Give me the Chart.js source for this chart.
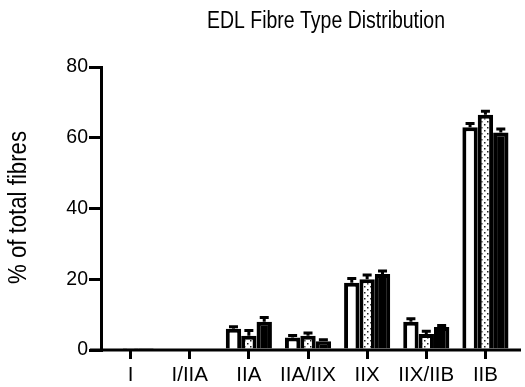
<!DOCTYPE html>
<html><head><meta charset="utf-8">
<script src="https://cdn.jsdelivr.net/npm/chart.js@4/dist/chart.umd.min.js"></script>
<style>html,body{margin:0;padding:0;background:#fff}#wrap{width:525px;height:387px}</style>
</head><body><div id="wrap"><canvas id="c" width="525" height="387"></canvas></div>
<script>
const categories = ["I","I/IIA","IIA","IIA/IIX","IIX","IIX/IIB","IIB"];
const series1 = [0, 0, 6, 3.5, 19, 8, 63];
const series2 = [0.6, 0, 4, 4, 20, 4.5, 66.5];
const series3 = [0.6, 0, 8, 2.5, 21.5, 6.5, 61.5];
const err1 = [0, 0, 0.6, 0.6, 1.2, 0.8, 1.0];
const err2 = [0, 0, 1.5, 0.8, 1.2, 0.8, 1.0];
const err3 = [0, 0, 1.2, 0.4, 0.8, 0.4, 1.0];
const yTicks = [0,20,40,60,80];
const titleText = "EDL Fibre Type Distribution";
const yTitle = "% of total fibres";
const FONT = "'Liberation Sans', Arial, sans-serif";

function dotPattern(){
  const p = document.createElement('canvas'); p.width = 6; p.height = 6;
  const g = p.getContext('2d');
  g.fillStyle = '#fff'; g.fillRect(0,0,6,6);
  g.fillStyle = '#222';
  g.fillRect(1,1,1.5,1.5); g.fillRect(4,4,1.5,1.5);
  return g.createPattern(p,'repeat');
}
const ctx0 = document.getElementById('c').getContext('2d');

function squeezedText(ctx, text, x, y, size, targetW, rot){
  ctx.save();
  ctx.font = size + "px " + FONT;
  const w = ctx.measureText(text).width;
  ctx.translate(x, y);
  if (rot) ctx.rotate(rot);
  ctx.scale(targetW / w, 1);
  ctx.textAlign = 'center'; ctx.textBaseline = 'middle'; ctx.fillStyle = '#000';
  ctx.fillText(text, 0, 0);
  ctx.restore();
}

const errPlugin = {
  id:'err',
  afterDatasetsDraw(chart){
    const ctx = chart.ctx, y = chart.scales.y;
    const errs = [err1, err2, err3];
    ctx.save(); ctx.strokeStyle='#000'; ctx.lineWidth=3;
    chart.data.datasets.forEach((ds,i)=>{
      const meta = chart.getDatasetMeta(i);
      meta.data.forEach((bar,j)=>{
        const e = errs[i][j]; if(!e) return;
        const top = y.getPixelForValue(ds.data[j]);
        const tip = y.getPixelForValue(ds.data[j]+e);
        ctx.beginPath(); ctx.moveTo(bar.x, top); ctx.lineTo(bar.x, tip);
        ctx.moveTo(bar.x-4.5, tip); ctx.lineTo(bar.x+4.5, tip); ctx.stroke();
      });
    });
    ctx.restore();
  },
  afterDraw(chart){
    const ctx = chart.ctx, a = chart.chartArea;
    ctx.save();
    ctx.strokeStyle='#000'; ctx.lineWidth=3;
    ctx.beginPath(); ctx.moveTo(a.left-11, a.bottom); ctx.lineTo(a.right+6, a.bottom); ctx.stroke();
    ctx.restore();
    squeezedText(ctx, titleText, 326, 22, 23.5, 238, 0);
    squeezedText(ctx, yTitle, 19, (a.top + a.bottom) / 2 - 1, 26.5, 153, -Math.PI / 2);
  }
};

new Chart(ctx0, {
  type:'bar',
  data:{ labels: categories, datasets:[
    {data: series1, backgroundColor:'#fff', borderColor:'#000', borderWidth:4, borderSkipped:'bottom'},
    {data: series2, backgroundColor: dotPattern(), borderColor:'#000', borderWidth:4, borderSkipped:'bottom'},
    {data: series3, backgroundColor:'#000', borderColor:'#000', borderWidth:4, borderSkipped:'bottom'}
  ]},
  options:{
    responsive:false, animation:false,
    layout:{padding:{top:67, right:10, left:0, bottom:0}},
    categoryPercentage:0.78, barPercentage:1.0,
    plugins:{legend:{display:false}, tooltip:{enabled:false}, title:{display:false}},
    scales:{
      x:{
        grid:{display:true, drawOnChartArea:false, drawTicks:true, tickLength:9, lineWidth:3, color:'#000', offset:false},
        border:{display:false},
        ticks:{color:'#000', font:{family:FONT, size:20.5}, padding:4, maxRotation:0, autoSkip:false},
        afterFit(s){ s.height = 37; }
      },
      y:{
        min:0, max:80,
        afterBuildTicks(s){ s.ticks = yTicks.map(v=>({value:v})); },
        grid:{display:true, drawOnChartArea:false, drawTicks:true, tickLength:12, lineWidth:3, color:'#000'},
        border:{display:true, width:3, color:'#000'},
        ticks:{color:'#000', font:{family:FONT, size:19.5}, padding:1},
        title:{display:false},
        afterFit(s){ s.width = 101; }
      }
    }
  },
  plugins:[errPlugin]
});
</script></body></html>
